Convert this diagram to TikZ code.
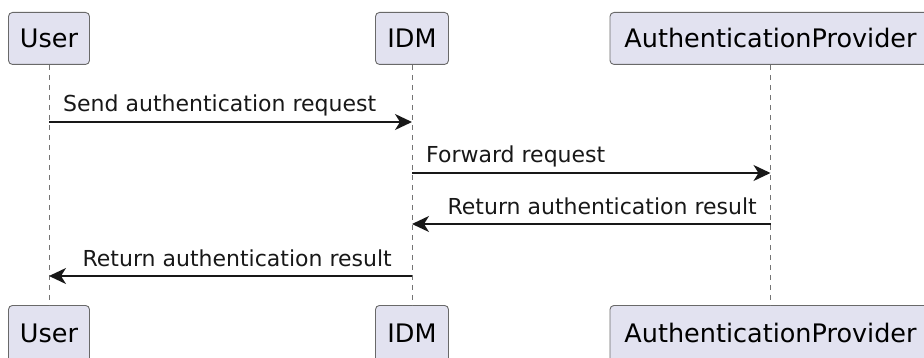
\documentclass[tikz,border=0pt]{standalone}
\usepackage{fontspec}
\setmainfont{DejaVu Sans}
\usetikzlibrary{arrows.meta}
\definecolor{partfill}{HTML}{E2E2F0}
\definecolor{lineclr}{HTML}{181818}
\tikzset{
  participant/.style={draw=lineclr!65, line width=0.9pt, fill=partfill, rounded corners=4pt,
    minimum height=52pt, inner sep=0pt, text height=18pt, text depth=0pt,
    font=\fontsize{25.5}{30}\selectfont, anchor=north},
  lifeline/.style={draw=lineclr!60, line width=1pt, dash pattern=on 5pt off 5pt},
  msg/.style={draw=lineclr, line width=1.5pt, -{Stealth[length=17pt,width=16pt,inset=5pt]}},
  msglabel/.style={font=\fontsize{22}{26}\selectfont, inner sep=0pt, text=lineclr}
}
\begin{document}
\begin{tikzpicture}[x=1pt,y=-1pt]
\useasboundingbox (0,0) rectangle (924,358);
\clip (0,0) rectangle (924,358);
% participants (top)
\node[participant, minimum width=81pt]  (userT) at (49,12)    {User};
\node[participant, minimum width=73pt]  (idmT)  at (412,12)   {IDM};
\node[participant, minimum width=321pt] (apT)   at (770.5,12) {AuthenticationProvider};
% participants (bottom)
\node[participant, minimum width=81pt, minimum height=57pt]  (userB) at (49,305)    {User};
\node[participant, minimum width=73pt, minimum height=57pt]  (idmB)  at (412,305)   {IDM};
\node[participant, minimum width=321pt, minimum height=57pt] (apB)   at (770.5,305) {AuthenticationProvider};
% lifelines
\draw[lifeline] (userT.south) -- (userB.north);
\draw[lifeline] (idmT.south) -- (idmB.north);
\draw[lifeline] (apT.south) -- (apB.north);
% message points on lifelines
\coordinate (u1) at (49,122);   \coordinate (i1) at (412,122);
\coordinate (i2) at (412,173);  \coordinate (a2) at (770.5,173);
\coordinate (a3) at (770.5,224); \coordinate (i3) at (412,224);
\coordinate (i4) at (412,276);  \coordinate (u4) at (49,276);
% messages
\draw[msg] (u1) -- (i1);
\node[msglabel, anchor=base west] (l1) at (63,112) {Send authentication request};
\draw[msg] (i2) -- (a2);
\node[msglabel, anchor=base west] (l2) at (426,163) {Forward request};
\draw[msg] (a3) -- (i3);
\node[msglabel, anchor=base east] (l3) at (757,215) {Return authentication result};
\draw[msg] (i4) -- (u4);
\node[msglabel, anchor=base east] (l4) at (392,267) {Return authentication result};
\end{tikzpicture}
\end{document}
